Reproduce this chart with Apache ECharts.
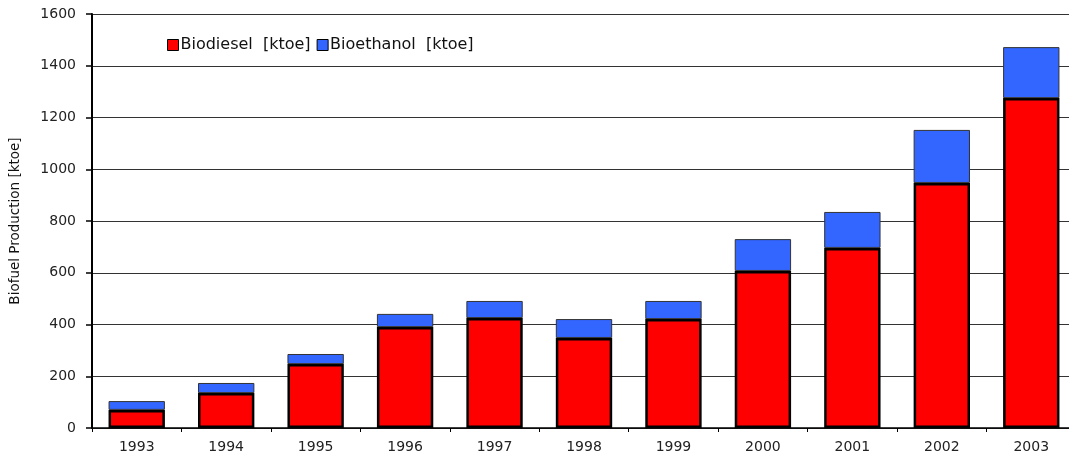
<!DOCTYPE html>
<html>
<head>
<meta charset="utf-8">
<script src="https://cdn.jsdelivr.net/npm/echarts@6/dist/echarts.min.js"></script>
<style>html,body{margin:0;padding:0;background:#fff;overflow:hidden;width:1069px;height:461px}#c{width:1076px;height:461px}</style>
</head>
<body>
<div id="c"></div>
<script>
const years = ['1993','1994','1995','1996','1997','1998','1999','2000','2001','2002','2003'];
const biodiesel = [70, 135, 247, 390, 425, 348, 421, 607, 696, 947, 1275];
const bioethanol = [34, 39, 39, 51, 66, 73, 70, 123, 139, 205, 197];
const yTicks = [0, 200, 400, 600, 800, 1000, 1200, 1400, 1600];

const FONT = 'DejaVu Sans, sans-serif';
const chart = echarts.init(document.getElementById('c'), null, {renderer: 'canvas'});
chart.setOption({
  animation: false,
  backgroundColor: '#fff',
  textStyle: {fontFamily: FONT},
  grid: {left: 88, top: 14, right: 0, bottom: 33, containLabel: false},
  legend: {
    left: 162, top: 32, itemWidth: 11, itemHeight: 11, itemGap: 6, icon: 'rect',
    textStyle: {fontSize: 16, color: '#111', fontFamily: FONT, padding: [0, 0, 0, -3]},
    data: [
      {name: 'Biodiesel  [ktoe]', itemStyle: {color: '#ff0000', borderColor: '#000', borderWidth: 1}},
      {name: 'Bioethanol  [ktoe]', itemStyle: {color: '#3366ff', borderColor: '#000', borderWidth: 1}}
    ]
  },
  xAxis: {
    type: 'category', data: years,
    axisLine: {lineStyle: {color: '#000', width: 1.5}},
    axisTick: {show: true, length: 4, lineStyle: {color: '#000'}},
    axisLabel: {fontSize: 14, color: '#222', margin: 12}
  },
  yAxis: {
    type: 'value', min: yTicks[0], max: yTicks[yTicks.length-1], interval: 200,
    name: 'Biofuel Production [ktoe]', nameLocation: 'middle', nameGap: 70,
    nameTextStyle: {fontSize: 13.5, color: '#111'},
    axisLine: {show: true, lineStyle: {color: '#000', width: 2}},
    axisTick: {show: true, length: 6, lineStyle: {color: '#000', width: 1.5}},
    axisLabel: {fontSize: 14, color: '#222', margin: 16, formatter: v => String(v)},
    splitLine: {show: true, lineStyle: {color: '#333', width: 1.2}}
  },
  series: [
    {
      name: 'Biodiesel  [ktoe]', type: 'bar', stack: 'a', data: biodiesel,
      barCategoryGap: '37%',
      itemStyle: {color: '#ff0000', borderColor: '#000', borderWidth: 2.5}
    },
    {
      name: 'Bioethanol  [ktoe]', type: 'bar', stack: 'a', data: bioethanol,
      barCategoryGap: '37%',
      itemStyle: {color: '#3366ff', borderColor: '#333', borderWidth: 1}
    }
  ]
});
</script>
</body>
</html>
